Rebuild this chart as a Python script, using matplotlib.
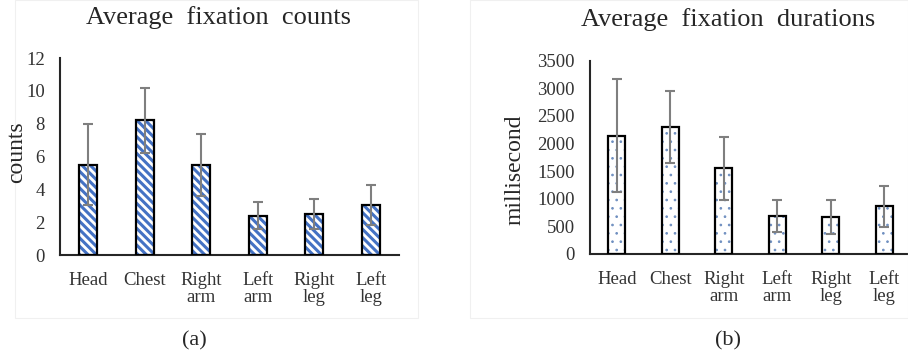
import matplotlib
matplotlib.use("Agg")
import matplotlib.pyplot as plt
from matplotlib.patches import Rectangle

plt.rcParams['font.family'] = ['Liberation Serif', 'DejaVu Serif']
plt.rcParams['hatch.linewidth'] = 0.3

# data
parts = ["Head", "Chest", "Right\narm", "Left\narm", "Right\nleg", "Left\nleg"]
count_mean = [5.5, 8.2, 5.5, 2.4, 2.5, 3.05]
count_err = [2.45, 2.0, 1.9, 0.83, 0.93, 1.23]
dur_mean = [2140, 2300, 1550, 690, 675, 865]
dur_err = [1020, 660, 570, 290, 305, 368]

BS = chr(92)
W, H = 908, 355
fig = plt.figure(figsize=(W / 100, H / 100), dpi=100)

def px(x0, y0, x1, y1):
    # pixel box (left, top, right, bottom) -> figure fraction
    return [x0 / W, 1 - y1 / H, (x1 - x0) / W, (y1 - y0) / H]

# faint panel frames
for x0, x1 in [(15, 418), (470, 908)]:
    fig.patches.append(Rectangle((x0 / W, 1 - 318 / H), (x1 - x0) / W, 318 / H,
                                 transform=fig.transFigure, fill=False,
                                 edgecolor="#f0f0f0", linewidth=0.8))

ax1 = fig.add_axes(px(60, 58, 399, 255))
ax2 = fig.add_axes(px(590, 60.7, 911, 254))

def draw(ax, mean, err, hatch, hcolor, hlw, ymax, step):
    x = range(len(parts))
    with plt.rc_context({'hatch.linewidth': hlw}):
        ax.bar(x, mean, width=0.32, color="white", edgecolor=hcolor, hatch=hatch,
               linewidth=0, zorder=2)
    ax.bar(x, mean, width=0.32, fill=False, edgecolor="black", linewidth=1.6,
           zorder=3)
    ax.errorbar(x, mean, yerr=err, fmt="none", ecolor="#7f7f7f", elinewidth=1.5,
                capsize=3.5, capthick=1.5, zorder=4)
    ax.set_xlim(-0.5, 5.5)
    ax.set_ylim(0, ymax)
    ax.set_yticks(range(0, ymax + 1, step))
    ax.set_xticks(list(x))
    ax.set_xticklabels(parts, fontsize=13.5, color="#333333", linespacing=1.05)
    ax.tick_params(axis="y", length=0, pad=11, labelsize=13.5, labelcolor="#333333")
    ax.tick_params(axis="x", length=0, pad=12)
    for s in ["top", "right"]:
        ax.spines[s].set_visible(False)
    for s in ["left", "bottom"]:
        ax.spines[s].set_linewidth(1.5)
        ax.spines[s].set_color("#262626")
    ax.patch.set_alpha(0)

draw(ax1, count_mean, count_err, BS * 4, "#4472C4", 2.2, 12, 2)
draw(ax2, dur_mean, dur_err, "..", "#6f8fc0", 0.7, 3500, 500)

fig.text(218 / W, 1 - 18 / H, "Average  fixation  counts", fontsize=19,
         ha="center", va="center", color="#262626")
fig.text(728 / W, 1 - 20 / H, "Average  fixation  durations", fontsize=19,
         ha="center", va="center", color="#262626")
fig.text(17 / W, 1 - 152 / H, "counts", fontsize=17, rotation=90,
         ha="center", va="center", color="#262626")
fig.text(515 / W, 1 - 170 / H, "millisecond", fontsize=17, rotation=90,
         ha="center", va="center", color="#262626")
fig.text(194 / W, 1 - 341 / H, "(a)", fontsize=16, ha="center", va="center",
         color="#262626")
fig.text(728 / W, 1 - 341 / H, "(b)", fontsize=16, ha="center", va="center",
         color="#262626")

fig.savefig("out.png", dpi=100)
